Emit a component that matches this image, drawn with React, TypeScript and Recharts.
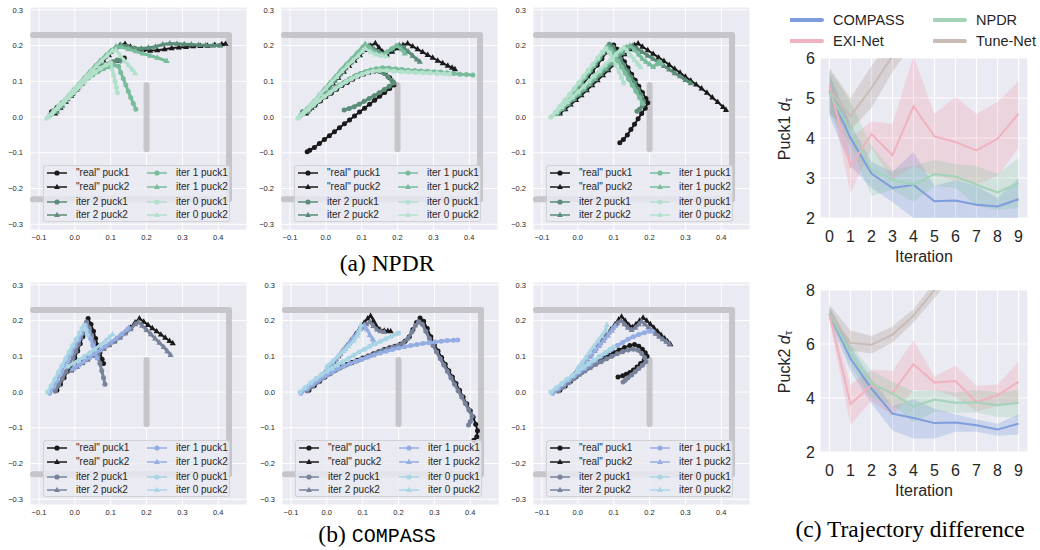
import React from "react";
import { ComposedChart, Scatter, XAxis, YAxis, CartesianGrid, Line, Area, Label } from "recharts";

type P = [number, number];

// ---------------- trajectory panels: ticks, labels, walls ----------------
const TRAJ_X_TICKS = [-0.1, 0, 0.1, 0.2, 0.3, 0.4];
const TRAJ_Y_TICKS = [-0.3, -0.2, -0.1, 0, 0.1, 0.2, 0.3];
const SERIES_LABELS = ['"real" puck1', '"real" puck2', "iter 2 puck1", "iter 2 puck2", "iter 1 puck1", "iter 1 puck2", "iter 0 puck1", "iter 0 puck2"];
const WALL_OUTER: P[] = [[-0.117, 0.23], [0.43, 0.23], [0.43, -0.23], [-0.117, -0.23]];
const WALL_INNER: P[] = [[0.2, 0.09], [0.2, -0.09]];

const NPDR_COLORS = ["#1a1a1a", "#1a1a1a", "#5b8d79", "#5b8d79", "#79bc9c", "#79bc9c", "#b3e0cb", "#b3e0cb"];
const COMPASS_COLORS = ["#1a1a1a", "#1a1a1a", "#78839b", "#78839b", "#94ade3", "#94ade3", "#a9d5e5", "#a9d5e5"];

// ---------------- (a) NPDR, panel 1 ----------------
const A1_REAL_P1: P[] = [[-0.065,0.015],[-0.05,0.027],[-0.035,0.04],[-0.02,0.053],[-0.005,0.066],[0.01,0.082],[0.025,0.1],[0.04,0.117],[0.055,0.13],[0.07,0.138],[0.085,0.145],[0.1,0.152],[0.12,0.158],[0.138,0.165]];
const A1_REAL_P2: P[] = [[-0.055,0.01],[-0.04,0.026],[-0.025,0.043],[-0.01,0.06],[0.005,0.077],[0.02,0.094],[0.035,0.11],[0.05,0.127],[0.065,0.143],[0.08,0.158],[0.095,0.173],[0.11,0.188],[0.125,0.2],[0.14,0.205],[0.155,0.197],[0.17,0.19],[0.19,0.188],[0.21,0.186],[0.23,0.187],[0.25,0.19],[0.27,0.193],[0.29,0.195],[0.31,0.196],[0.33,0.198],[0.35,0.199],[0.37,0.2],[0.39,0.202],[0.41,0.204],[0.42,0.205]];
const A1_IT2_P1: P[] = [[-0.06,0.018],[-0.045,0.03],[-0.03,0.043],[-0.015,0.058],[0.0,0.073],[0.015,0.09],[0.03,0.107],[0.045,0.122],[0.06,0.134],[0.075,0.142],[0.09,0.148],[0.105,0.155],[0.118,0.16],[0.128,0.157]];
const A1_IT2_P2: P[] = [[-0.05,0.015],[-0.035,0.032],[-0.02,0.05],[-0.005,0.067],[0.01,0.085],[0.025,0.102],[0.04,0.12],[0.055,0.137],[0.07,0.153],[0.085,0.168],[0.1,0.182],[0.115,0.195],[0.128,0.202],[0.145,0.198],[0.165,0.193],[0.185,0.192],[0.205,0.194],[0.225,0.197],[0.245,0.203],[0.265,0.206],[0.285,0.205],[0.305,0.204],[0.325,0.203],[0.345,0.202],[0.365,0.201],[0.385,0.2],[0.405,0.2]];
const A1_IT1_P1: P[] = [[-0.07,0.005],[-0.055,0.018],[-0.04,0.032],[-0.025,0.047],[-0.01,0.062],[0.005,0.078],[0.02,0.094],[0.035,0.108],[0.05,0.118],[0.065,0.127],[0.08,0.135],[0.095,0.141],[0.11,0.146],[0.122,0.142],[0.128,0.125],[0.135,0.108],[0.142,0.09],[0.149,0.072],[0.156,0.055],[0.163,0.038],[0.17,0.022]];
const A1_IT1_P2: P[] = [[-0.065,0.008],[-0.05,0.024],[-0.035,0.041],[-0.02,0.058],[-0.005,0.075],[0.01,0.092],[0.025,0.109],[0.04,0.126],[0.055,0.142],[0.07,0.158],[0.085,0.172],[0.1,0.186],[0.115,0.198],[0.13,0.196],[0.15,0.19],[0.17,0.184],[0.19,0.178],[0.21,0.172],[0.23,0.166],[0.256,0.157]];
const A1_IT0_P1: P[] = [[-0.078,-0.003],[-0.063,0.01],[-0.048,0.024],[-0.033,0.039],[-0.018,0.054],[-0.003,0.069],[0.012,0.084],[0.027,0.099],[0.042,0.113],[0.057,0.126],[0.072,0.137],[0.087,0.146],[0.1,0.152],[0.104,0.135],[0.108,0.118],[0.112,0.1],[0.116,0.083],[0.119,0.068]];
const A1_IT0_P2: P[] = [[-0.075,0.0],[-0.06,0.016],[-0.045,0.032],[-0.03,0.048],[-0.015,0.064],[0.0,0.08],[0.015,0.096],[0.03,0.112],[0.045,0.128],[0.06,0.143],[0.075,0.158],[0.09,0.172],[0.105,0.186],[0.115,0.188],[0.127,0.172],[0.138,0.158],[0.15,0.145],[0.16,0.133],[0.168,0.123]];

// ---------------- (a) NPDR, panel 2 ----------------
const A2_REAL_P1: P[] = [[-0.06,0.012],[-0.045,0.022],[-0.03,0.033],[-0.015,0.045],[0.0,0.057],[0.015,0.067],[0.03,0.078],[0.045,0.088],[0.06,0.097],[0.075,0.106],[0.09,0.114],[0.105,0.12],[0.12,0.125],[0.135,0.128],[0.15,0.128],[0.165,0.122],[0.178,0.11],[0.188,0.097],[0.19,0.09],[0.178,0.08],[0.164,0.069],[0.15,0.058],[0.136,0.047],[0.122,0.036],[0.108,0.025],[0.094,0.014],[0.08,0.003],[0.066,-0.008],[0.052,-0.019],[0.038,-0.03],[0.024,-0.041],[0.01,-0.052],[-0.004,-0.063],[-0.018,-0.074],[-0.032,-0.085],[-0.045,-0.093],[-0.052,-0.097]];
const A2_REAL_P2: P[] = [[-0.055,0.01],[-0.04,0.026],[-0.025,0.043],[-0.01,0.06],[0.005,0.077],[0.02,0.094],[0.035,0.11],[0.05,0.127],[0.065,0.143],[0.08,0.158],[0.095,0.173],[0.11,0.188],[0.125,0.2],[0.138,0.207],[0.148,0.195],[0.158,0.183],[0.17,0.175],[0.185,0.183],[0.2,0.193],[0.215,0.202],[0.228,0.206],[0.242,0.198],[0.256,0.19],[0.27,0.182],[0.284,0.174],[0.298,0.166],[0.312,0.158],[0.326,0.151],[0.34,0.144],[0.352,0.138],[0.36,0.134]];
const A2_IT2_P1: P[] = [[-0.065,0.015],[-0.05,0.025],[-0.035,0.036],[-0.02,0.048],[-0.005,0.06],[0.01,0.07],[0.025,0.08],[0.04,0.09],[0.055,0.099],[0.07,0.108],[0.085,0.116],[0.1,0.122],[0.115,0.127],[0.13,0.13],[0.145,0.13],[0.16,0.124],[0.173,0.113],[0.184,0.102],[0.19,0.095],[0.177,0.086],[0.163,0.077],[0.149,0.068],[0.135,0.06],[0.121,0.052],[0.107,0.044],[0.093,0.036],[0.079,0.029],[0.065,0.024],[0.051,0.02]];
const A2_IT2_P2: P[] = [[-0.05,0.015],[-0.035,0.032],[-0.02,0.05],[-0.005,0.067],[0.01,0.085],[0.025,0.102],[0.04,0.12],[0.055,0.137],[0.07,0.153],[0.085,0.168],[0.1,0.183],[0.112,0.195],[0.12,0.2],[0.135,0.19],[0.15,0.18],[0.165,0.178],[0.18,0.188],[0.195,0.198],[0.205,0.202],[0.218,0.194],[0.23,0.183],[0.242,0.172],[0.254,0.161],[0.262,0.155]];
const A2_IT1_P1: P[] = [[-0.07,0.005],[-0.055,0.017],[-0.04,0.03],[-0.025,0.043],[-0.01,0.055],[0.005,0.066],[0.02,0.077],[0.035,0.087],[0.05,0.097],[0.065,0.106],[0.08,0.114],[0.095,0.121],[0.11,0.127],[0.125,0.132],[0.14,0.135],[0.158,0.138],[0.176,0.137],[0.194,0.135],[0.212,0.133],[0.23,0.131],[0.248,0.13],[0.266,0.129],[0.284,0.128],[0.302,0.127],[0.32,0.126],[0.338,0.124],[0.356,0.122],[0.374,0.12],[0.392,0.119],[0.41,0.118]];
const A2_IT1_P2: P[] = [[-0.065,0.008],[-0.05,0.025],[-0.035,0.043],[-0.02,0.06],[-0.005,0.078],[0.01,0.095],[0.025,0.112],[0.04,0.13],[0.055,0.146],[0.07,0.162],[0.085,0.178],[0.1,0.194],[0.11,0.205],[0.125,0.192],[0.14,0.18],[0.155,0.175],[0.17,0.182],[0.185,0.192],[0.198,0.2],[0.21,0.19],[0.22,0.178]];
const A2_IT0_P1: P[] = [[-0.078,-0.003],[-0.063,0.009],[-0.048,0.022],[-0.033,0.035],[-0.018,0.047],[-0.003,0.058],[0.012,0.069],[0.027,0.08],[0.042,0.09],[0.057,0.099],[0.072,0.107],[0.087,0.114],[0.102,0.12],[0.117,0.125],[0.132,0.128],[0.15,0.13],[0.17,0.13],[0.19,0.128],[0.21,0.127],[0.23,0.126],[0.25,0.125],[0.27,0.124],[0.29,0.123],[0.31,0.122],[0.33,0.121],[0.345,0.12]];
const A2_IT0_P2: P[] = [[-0.075,0.0],[-0.06,0.016],[-0.045,0.032],[-0.03,0.048],[-0.015,0.064],[0.0,0.08],[0.015,0.096],[0.03,0.112],[0.045,0.128],[0.06,0.143],[0.075,0.158],[0.09,0.172],[0.102,0.185],[0.11,0.192],[0.125,0.182],[0.14,0.175],[0.155,0.172],[0.168,0.17]];

// ---------------- (a) NPDR, panel 3 ----------------
const A3_REAL_P1: P[] = [[-0.05,0.012],[-0.037,0.027],[-0.024,0.043],[-0.011,0.059],[0.002,0.076],[0.015,0.093],[0.028,0.11],[0.041,0.127],[0.054,0.145],[0.067,0.163],[0.08,0.182],[0.09,0.198],[0.1,0.202],[0.11,0.19],[0.12,0.173],[0.13,0.155],[0.14,0.138],[0.15,0.12],[0.16,0.103],[0.17,0.086],[0.18,0.069],[0.19,0.052],[0.195,0.04],[0.188,0.025],[0.178,0.01],[0.168,-0.005],[0.158,-0.02],[0.148,-0.035],[0.138,-0.05],[0.127,-0.063],[0.117,-0.072]];
const A3_REAL_P2: P[] = [[-0.05,0.01],[-0.035,0.022],[-0.02,0.035],[-0.005,0.048],[0.01,0.061],[0.025,0.075],[0.04,0.089],[0.055,0.103],[0.07,0.117],[0.085,0.131],[0.1,0.146],[0.115,0.161],[0.13,0.176],[0.145,0.19],[0.158,0.202],[0.168,0.206],[0.18,0.197],[0.195,0.187],[0.21,0.177],[0.225,0.167],[0.24,0.157],[0.255,0.146],[0.27,0.135],[0.285,0.124],[0.3,0.113],[0.315,0.102],[0.33,0.091],[0.345,0.08],[0.36,0.068],[0.375,0.055],[0.39,0.042],[0.405,0.028],[0.413,0.02]];
const A3_IT2_P1: P[] = [[-0.055,0.015],[-0.042,0.03],[-0.029,0.046],[-0.016,0.062],[-0.003,0.079],[0.01,0.096],[0.023,0.113],[0.036,0.13],[0.049,0.148],[0.062,0.166],[0.075,0.184],[0.088,0.204],[0.098,0.196],[0.108,0.18],[0.118,0.163],[0.128,0.146],[0.138,0.129],[0.148,0.112],[0.158,0.095],[0.168,0.078],[0.176,0.062],[0.182,0.046],[0.18,0.032],[0.172,0.022],[0.165,0.016]];
const A3_IT2_P2: P[] = [[-0.055,0.012],[-0.04,0.025],[-0.025,0.038],[-0.01,0.051],[0.005,0.064],[0.02,0.078],[0.035,0.092],[0.05,0.106],[0.065,0.12],[0.08,0.134],[0.095,0.149],[0.11,0.164],[0.125,0.179],[0.14,0.193],[0.152,0.2],[0.165,0.192],[0.18,0.182],[0.195,0.172],[0.21,0.163],[0.225,0.153],[0.24,0.143],[0.255,0.133],[0.27,0.123],[0.285,0.114],[0.3,0.104],[0.315,0.095]];
const A3_IT1_P1: P[] = [[-0.06,0.01],[-0.047,0.026],[-0.034,0.042],[-0.021,0.058],[-0.008,0.075],[0.005,0.092],[0.018,0.109],[0.031,0.126],[0.044,0.143],[0.057,0.161],[0.07,0.179],[0.082,0.197],[0.092,0.19],[0.102,0.174],[0.112,0.157],[0.122,0.14],[0.132,0.123],[0.142,0.106],[0.152,0.089],[0.162,0.072],[0.172,0.055],[0.18,0.038]];
const A3_IT1_P2: P[] = [[-0.06,0.008],[-0.045,0.022],[-0.03,0.036],[-0.015,0.05],[0.0,0.064],[0.015,0.078],[0.03,0.092],[0.045,0.107],[0.06,0.122],[0.075,0.137],[0.09,0.152],[0.105,0.167],[0.12,0.182],[0.135,0.196],[0.145,0.2],[0.158,0.188],[0.17,0.175],[0.18,0.163],[0.19,0.155],[0.2,0.148],[0.21,0.14],[0.22,0.148],[0.228,0.155],[0.233,0.15]];
const A3_IT0_P1: P[] = [[-0.075,0.0],[-0.062,0.015],[-0.049,0.031],[-0.036,0.047],[-0.023,0.063],[-0.01,0.08],[0.003,0.097],[0.016,0.114],[0.029,0.131],[0.042,0.148],[0.055,0.165],[0.068,0.182],[0.078,0.192],[0.088,0.18],[0.097,0.163],[0.106,0.145],[0.115,0.127],[0.122,0.11],[0.128,0.095]];
const A3_IT0_P2: P[] = [[-0.075,0.0],[-0.06,0.014],[-0.045,0.028],[-0.03,0.042],[-0.015,0.056],[0.0,0.07],[0.015,0.085],[0.03,0.1],[0.045,0.115],[0.06,0.13],[0.075,0.145],[0.09,0.16],[0.105,0.175],[0.118,0.188],[0.128,0.195],[0.138,0.185],[0.148,0.172],[0.158,0.16],[0.168,0.148],[0.175,0.14]];

// ---------------- (b) COMPASS, panel 1 ----------------
const B1_REAL_P1: P[] = [[-0.05,0.005],[-0.04,0.022],[-0.03,0.04],[-0.02,0.058],[-0.01,0.077],[0.0,0.096],[0.008,0.115],[0.015,0.135],[0.022,0.155],[0.028,0.175],[0.033,0.195],[0.037,0.206],[0.045,0.19],[0.052,0.17],[0.058,0.15],[0.064,0.13],[0.07,0.11],[0.076,0.092],[0.08,0.08]];
const B1_REAL_P2: P[] = [[-0.01,0.062],[0.005,0.072],[0.02,0.082],[0.035,0.092],[0.05,0.102],[0.065,0.112],[0.08,0.122],[0.095,0.132],[0.11,0.143],[0.125,0.155],[0.14,0.168],[0.155,0.18],[0.168,0.195],[0.18,0.206],[0.192,0.197],[0.204,0.188],[0.216,0.179],[0.228,0.17],[0.24,0.161],[0.252,0.152],[0.264,0.143],[0.273,0.137]];
const B1_IT2_P1: P[] = [[-0.055,0.002],[-0.045,0.02],[-0.035,0.038],[-0.025,0.057],[-0.015,0.076],[-0.005,0.095],[0.003,0.114],[0.01,0.133],[0.017,0.152],[0.023,0.17],[0.029,0.188],[0.033,0.196],[0.04,0.18],[0.046,0.16],[0.052,0.14],[0.058,0.12],[0.064,0.1],[0.07,0.08],[0.075,0.06],[0.08,0.04],[0.084,0.022]];
const B1_IT2_P2: P[] = [[-0.01,0.06],[0.005,0.07],[0.02,0.081],[0.035,0.091],[0.05,0.101],[0.065,0.111],[0.08,0.121],[0.095,0.131],[0.11,0.141],[0.125,0.152],[0.14,0.164],[0.155,0.176],[0.168,0.19],[0.177,0.196],[0.188,0.186],[0.2,0.174],[0.212,0.162],[0.224,0.15],[0.236,0.138],[0.248,0.126],[0.258,0.114],[0.267,0.104]];
const B1_IT1_P1: P[] = [[-0.07,-0.003],[-0.06,0.015],[-0.05,0.034],[-0.04,0.053],[-0.03,0.072],[-0.02,0.091],[-0.01,0.11],[0.0,0.128],[0.01,0.146],[0.018,0.163],[0.025,0.18],[0.03,0.188],[0.037,0.17],[0.044,0.15],[0.05,0.13],[0.056,0.112],[0.062,0.095]];
const B1_IT1_P2: P[] = [[-0.005,0.065],[0.01,0.075],[0.025,0.086],[0.04,0.096],[0.055,0.107],[0.07,0.117],[0.085,0.128],[0.1,0.139],[0.115,0.15],[0.13,0.162],[0.145,0.175],[0.15,0.18]];
const B1_IT0_P1: P[] = [[-0.076,0.0],[-0.066,0.018],[-0.056,0.036],[-0.046,0.055],[-0.036,0.074],[-0.026,0.093],[-0.016,0.112],[-0.006,0.13],[0.004,0.148],[0.013,0.165],[0.02,0.178],[0.026,0.186],[0.03,0.175],[0.035,0.16]];
const B1_IT0_P2: P[] = [[-0.02,0.072],[-0.005,0.08],[0.01,0.089],[0.025,0.099],[0.04,0.109],[0.055,0.12],[0.07,0.131],[0.085,0.143],[0.095,0.152],[0.105,0.162]];

// ---------------- (b) COMPASS, panel 2 ----------------
const B2_REAL_P1: P[] = [[-0.05,0.005],[-0.035,0.018],[-0.02,0.03],[-0.005,0.042],[0.01,0.053],[0.025,0.062],[0.04,0.07],[0.055,0.077],[0.07,0.083],[0.085,0.089],[0.1,0.095],[0.115,0.101],[0.13,0.107],[0.145,0.113],[0.16,0.119],[0.175,0.124],[0.19,0.128],[0.205,0.134],[0.218,0.142],[0.23,0.155],[0.24,0.175],[0.25,0.195],[0.26,0.207],[0.27,0.198],[0.28,0.178],[0.29,0.155],[0.3,0.133],[0.31,0.115],[0.32,0.097],[0.33,0.078],[0.34,0.06],[0.35,0.042],[0.36,0.024],[0.37,0.005],[0.38,-0.014],[0.39,-0.033],[0.4,-0.052],[0.408,-0.07],[0.415,-0.09],[0.42,-0.108],[0.418,-0.125],[0.41,-0.135]];
const B2_REAL_P2: P[] = [[-0.005,0.055],[0.008,0.07],[0.02,0.085],[0.032,0.1],[0.044,0.115],[0.056,0.13],[0.068,0.146],[0.08,0.162],[0.092,0.178],[0.104,0.194],[0.114,0.206],[0.122,0.213],[0.13,0.2],[0.138,0.185],[0.148,0.175],[0.16,0.172],[0.17,0.171],[0.178,0.17]];
const B2_IT2_P1: P[] = [[-0.055,0.003],[-0.04,0.016],[-0.025,0.028],[-0.01,0.04],[0.005,0.05],[0.02,0.059],[0.035,0.067],[0.05,0.074],[0.065,0.08],[0.08,0.086],[0.095,0.092],[0.11,0.098],[0.125,0.104],[0.14,0.11],[0.155,0.116],[0.17,0.121],[0.185,0.126],[0.2,0.131],[0.213,0.138],[0.226,0.15],[0.237,0.168],[0.247,0.186],[0.256,0.197],[0.266,0.19],[0.276,0.17],[0.286,0.15],[0.296,0.13],[0.306,0.112],[0.316,0.094],[0.326,0.076],[0.336,0.058],[0.346,0.04],[0.356,0.022],[0.366,0.004],[0.376,-0.014],[0.386,-0.032],[0.396,-0.05],[0.405,-0.068],[0.4,-0.082],[0.395,-0.092]];
const B2_IT2_P2: P[] = [[-0.01,0.05],[0.002,0.064],[0.014,0.078],[0.026,0.092],[0.038,0.107],[0.05,0.122],[0.062,0.137],[0.074,0.152],[0.086,0.167],[0.098,0.18],[0.11,0.19],[0.12,0.196],[0.13,0.185],[0.14,0.175],[0.15,0.17],[0.16,0.168]];
const B2_IT1_P1: P[] = [[-0.072,-0.003],[-0.055,0.01],[-0.038,0.022],[-0.021,0.034],[-0.004,0.045],[0.013,0.055],[0.03,0.064],[0.047,0.072],[0.064,0.079],[0.081,0.086],[0.098,0.092],[0.115,0.098],[0.132,0.104],[0.149,0.109],[0.166,0.114],[0.183,0.119],[0.2,0.123],[0.217,0.127],[0.234,0.13],[0.251,0.133],[0.268,0.136],[0.285,0.138],[0.302,0.14],[0.319,0.142],[0.336,0.144],[0.353,0.145],[0.365,0.146]];
const B2_IT1_P2: P[] = [[0.0,0.06],[0.012,0.075],[0.024,0.09],[0.036,0.105],[0.048,0.12],[0.06,0.135],[0.072,0.15],[0.084,0.165],[0.095,0.18],[0.104,0.188],[0.112,0.175],[0.12,0.16],[0.128,0.148],[0.132,0.141]];
const B2_IT0_P1: P[] = [[-0.075,0.0],[-0.06,0.013],[-0.045,0.026],[-0.03,0.038],[-0.015,0.049],[0.0,0.058],[0.015,0.067],[0.03,0.076],[0.045,0.085],[0.06,0.094],[0.075,0.103],[0.09,0.112],[0.105,0.12],[0.12,0.128],[0.135,0.135],[0.15,0.142],[0.165,0.149],[0.18,0.156],[0.195,0.163],[0.2,0.165]];
const B2_IT0_P2: P[] = [[0.0,0.072],[0.015,0.086],[0.03,0.1],[0.045,0.114],[0.06,0.128],[0.075,0.143],[0.085,0.158],[0.092,0.174],[0.095,0.188]];

// ---------------- (b) COMPASS, panel 3 ----------------
const B3_REAL_P1: P[] = [[-0.05,0.005],[-0.035,0.017],[-0.02,0.03],[-0.005,0.043],[0.01,0.055],[0.025,0.066],[0.04,0.076],[0.055,0.086],[0.07,0.095],[0.085,0.103],[0.1,0.111],[0.115,0.118],[0.13,0.125],[0.145,0.13],[0.158,0.133],[0.17,0.128],[0.18,0.12],[0.188,0.11],[0.193,0.1],[0.185,0.09],[0.175,0.08],[0.165,0.07],[0.155,0.062],[0.145,0.055],[0.135,0.05],[0.125,0.046],[0.112,0.042]];
const B3_REAL_P2: P[] = [[-0.005,0.055],[0.008,0.07],[0.02,0.085],[0.032,0.1],[0.044,0.115],[0.056,0.13],[0.068,0.145],[0.08,0.16],[0.092,0.175],[0.104,0.19],[0.114,0.203],[0.122,0.211],[0.132,0.2],[0.142,0.188],[0.152,0.182],[0.162,0.19],[0.172,0.2],[0.182,0.208],[0.192,0.2],[0.202,0.19],[0.212,0.18],[0.222,0.17],[0.232,0.16],[0.242,0.15],[0.25,0.142],[0.258,0.134]];
const B3_IT2_P1: P[] = [[-0.055,0.002],[-0.04,0.014],[-0.025,0.026],[-0.01,0.038],[0.005,0.049],[0.02,0.059],[0.035,0.068],[0.05,0.077],[0.065,0.085],[0.08,0.093],[0.095,0.1],[0.11,0.107],[0.125,0.113],[0.14,0.118],[0.155,0.12],[0.168,0.117],[0.178,0.108],[0.186,0.097],[0.19,0.085],[0.18,0.075],[0.17,0.066],[0.16,0.057],[0.15,0.048],[0.14,0.04],[0.132,0.033],[0.126,0.028]];
const B3_IT2_P2: P[] = [[-0.01,0.05],[0.002,0.064],[0.014,0.078],[0.026,0.092],[0.038,0.107],[0.05,0.122],[0.062,0.137],[0.074,0.152],[0.086,0.167],[0.098,0.18],[0.11,0.193],[0.12,0.2],[0.13,0.19],[0.14,0.18],[0.15,0.174],[0.16,0.18],[0.17,0.19],[0.177,0.198],[0.187,0.19],[0.197,0.181],[0.207,0.172],[0.217,0.163],[0.227,0.155],[0.237,0.148],[0.247,0.141],[0.255,0.135]];
const B3_IT1_P1: P[] = [[-0.07,-0.003],[-0.055,0.01],[-0.04,0.022],[-0.025,0.034],[-0.01,0.045],[0.005,0.056],[0.02,0.067],[0.035,0.078],[0.05,0.089],[0.065,0.1],[0.08,0.11],[0.095,0.12],[0.11,0.13],[0.125,0.139],[0.14,0.148],[0.155,0.155],[0.17,0.161],[0.185,0.166],[0.2,0.17],[0.207,0.171]];
const B3_IT1_P2: P[] = [[0.0,0.06],[0.012,0.074],[0.024,0.088],[0.036,0.102],[0.048,0.116],[0.06,0.13],[0.072,0.144],[0.084,0.158],[0.095,0.172],[0.104,0.185]];
const B3_IT0_P1: P[] = [[-0.075,0.0],[-0.06,0.012],[-0.045,0.024],[-0.03,0.036],[-0.015,0.047],[0.0,0.058],[0.015,0.069],[0.03,0.08],[0.045,0.09],[0.06,0.1],[0.075,0.11],[0.09,0.12],[0.1,0.126]];
const B3_IT0_P2: P[] = [[0.0,0.068],[0.011,0.082],[0.022,0.097],[0.033,0.112],[0.044,0.127],[0.055,0.142],[0.066,0.157],[0.077,0.172],[0.081,0.188]];

// ---------------- (c) trajectory difference ----------------
const ITERATIONS = [0, 1, 2, 3, 4, 5, 6, 7, 8, 9];
const METHODS = ["COMPASS", "EXI-Net", "NPDR", "Tune-Net"];
const METHOD_LINE = ["#7f9ddc", "#f0b2be", "#a3d3b8", "#c9bcb6"];
const METHOD_BAND = ["#4878d0", "#ee7d93", "#6cc08e", "#8c7466"];

const P1_COMPASS = [5.17, 4.0, 3.11, 2.75, 2.83, 2.42, 2.44, 2.33, 2.29, 2.47];
const P1_COMPASS_LO = [4.55, 3.3, 2.75, 2.4, 2.0, 2.0, 1.98, 1.9, 1.85, 1.95];
const P1_COMPASS_HI = [5.6, 4.35, 3.4, 3.15, 3.65, 2.8, 2.95, 2.8, 2.5, 3.0];
const P1_EXI = [5.31, 3.29, 4.1, 3.57, 4.79, 4.04, 3.9, 3.69, 3.98, 4.61];
const P1_EXI_LO = [5.1, 2.62, 3.75, 2.95, 3.3, 3.05, 2.95, 2.85, 3.05, 3.75];
const P1_EXI_HI = [5.45, 4.0, 4.42, 4.35, 6.05, 4.6, 5.03, 4.6, 4.9, 5.42];
const P1_NPDR = [5.13, 4.17, 3.21, 2.96, 2.83, 3.1, 3.04, 2.83, 2.64, 2.87];
const P1_NPDR_LO = [4.6, 3.8, 2.55, 2.7, 2.4, 2.8, 2.75, 2.3, 2.2, 2.25];
const P1_NPDR_HI = [5.7, 4.9, 3.8, 3.2, 3.3, 3.45, 3.35, 3.3, 3.1, 3.5];
const P1_TUNE = [5.2, 4.55, 5.25, 6.05, 6.9, 7.8, 8.6, 9.3, 9.9, 10.4];
const P1_TUNE_LO = [4.6, 4.2, 4.75, 5.65, 6.4, 7.2, 8.0, 8.6, 9.2, 9.6];
const P1_TUNE_HI = [5.75, 5.0, 5.8, 6.5, 7.4, 8.4, 9.2, 10.0, 10.6, 11.2];

const P2_COMPASS = [7.13, 5.46, 4.35, 3.42, 3.26, 3.07, 3.09, 2.99, 2.83, 3.05];
const P2_COMPASS_LO = [6.9, 5.0, 3.8, 2.8, 2.5, 2.5, 2.75, 2.75, 2.6, 2.65];
const P2_COMPASS_HI = [7.35, 5.9, 4.7, 3.7, 3.95, 3.6, 3.4, 3.2, 3.05, 3.4];
const P2_EXI = [7.1, 3.77, 4.47, 4.19, 5.25, 4.57, 4.63, 3.85, 4.1, 4.6];
const P2_EXI_LO = [6.9, 3.0, 3.9, 3.35, 4.3, 4.3, 4.05, 3.5, 3.7, 3.85];
const P2_EXI_HI = [7.3, 4.5, 5.05, 5.0, 6.15, 4.8, 5.2, 4.45, 4.5, 5.35];
const P2_NPDR = [7.13, 5.65, 4.53, 4.16, 3.69, 3.94, 3.82, 3.84, 3.73, 3.82];
const P2_NPDR_LO = [6.9, 5.2, 4.0, 3.75, 3.1, 3.5, 3.45, 3.45, 3.3, 3.3];
const P2_NPDR_HI = [7.4, 6.0, 5.0, 4.6, 4.25, 4.3, 4.2, 4.3, 4.2, 4.3];
const P2_TUNE = [7.13, 6.04, 5.97, 6.35, 7.05, 8.0, 9.0, 9.9, 10.7, 11.4];
const P2_TUNE_LO = [6.9, 5.75, 5.65, 6.05, 6.8, 7.7, 8.6, 9.4, 10.2, 10.8];
const P2_TUNE_HI = [7.45, 6.5, 6.3, 6.65, 7.3, 8.3, 9.4, 10.4, 11.2, 12.0];

// ---------------- helpers ----------------
const SANS = '"Liberation Sans", Arial, Helvetica, sans-serif';
const TEXT = "#262626";
const toPts = (a: P[]) => a.map(([x, y]) => ({ x, y }));
const fmt = (v: number) => (v < 0 ? "\u2212" : "") + Math.abs(v).toFixed(1);

const noShape = () => <g />;
const dotShape = (r: number) => (p: any) =>
  p.cx == null ? <g /> : <circle cx={p.cx} cy={p.cy} r={r} fill={p.fill} />;
const triShape = (s: number) => (p: any) =>
  p.cx == null ? <g /> : (
    <path d={`M${p.cx},${p.cy - s}L${p.cx + s * 0.9},${p.cy + s * 0.6}L${p.cx - s * 0.9},${p.cy + s * 0.6}Z`} fill={p.fill} />
  );

function Marker({ tri, color, cx, cy }: { tri: boolean; color: string; cx: number; cy: number }) {
  const s = 3.2;
  return tri ? (
    <path d={`M${cx},${cy - s}L${cx + s * 0.9},${cy + s * 0.6}L${cx - s * 0.9},${cy + s * 0.6}Z`} fill={color} />
  ) : (
    <circle cx={cx} cy={cy} r={2.6} fill={color} />
  );
}

function SubLegend({ left, top, colors }: { left: number; top: number; colors: string[] }) {
  const rows = [8.3, 22.3, 36.5, 50.2];
  return (
    <div
      style={{
        position: "absolute",
        left,
        top,
        width: 187,
        height: 57,
        background: "rgba(234,234,242,0.8)",
        border: "1px solid rgba(204,204,204,0.8)",
        borderRadius: 3,
        boxSizing: "border-box",
        fontFamily: SANS,
        fontSize: 10,
        color: TEXT,
      }}
    >
      {SERIES_LABELS.map((lab, k) => {
        const col = k < 4 ? 0 : 1;
        const row = k % 4;
        const x0 = col === 0 ? 3 : 103;
        const y = rows[row] - 1;
        return (
          <div key={lab} style={{ position: "absolute", left: x0, top: y - 6, height: 12, whiteSpace: "nowrap" }}>
            <svg width={20} height={12} style={{ position: "absolute", left: 0, top: 0 }}>
              <line x1={0} y1={6} x2={20} y2={6} stroke={colors[k]} strokeWidth={1.5} />
              <Marker tri={k % 2 === 1} color={colors[k]} cx={10} cy={6} />
            </svg>
            <span style={{ position: "absolute", left: 29, top: -1, lineHeight: "13px" }}>{lab}</span>
          </div>
        );
      })}
    </div>
  );
}

function TrajPanel({ plotLeft, plotTop, series, colors }: { plotLeft: number; plotTop: number; series: P[][]; colors: string[] }) {
  return (
    <>
      <div style={{ position: "absolute", left: plotLeft - 30, top: plotTop - 5 }}>
        <ComposedChart width={252} height={248} margin={{ top: 5, right: 5, bottom: 0, left: 0 }}>
          <CartesianGrid fill="#EAEAF2" stroke="#ffffff" strokeWidth={1} />
          <XAxis
            dataKey="x"
            type="number"
            domain={[-0.125, 0.48]}
            ticks={TRAJ_X_TICKS}
            allowDataOverflow
            height={20}
            axisLine={false}
            tickLine={false}
            tickSize={0}
            tickMargin={5}
            tickFormatter={fmt}
            tick={{ fontSize: 7.5, fill: TEXT, fontFamily: SANS }}
          />
          <YAxis
            dataKey="y"
            type="number"
            domain={[-0.316, 0.308]}
            ticks={TRAJ_Y_TICKS}
            allowDataOverflow
            width={30}
            axisLine={false}
            tickLine={false}
            tickSize={0}
            tickMargin={7}
            tickFormatter={fmt}
            tick={{ fontSize: 7.5, fill: TEXT, fontFamily: SANS }}
          />
          <Scatter
            data={toPts(WALL_OUTER)}
            shape={noShape}
            line={{ stroke: "#c5c5ca", strokeWidth: 6, strokeLinecap: "round", strokeLinejoin: "round" }}
            isAnimationActive={false}
          />
          <Scatter
            data={toPts(WALL_INNER)}
            shape={noShape}
            line={{ stroke: "#c5c5ca", strokeWidth: 6, strokeLinecap: "round" }}
            isAnimationActive={false}
          />
          {series.map((s, k) => (
            <Scatter
              key={k}
              data={toPts(s)}
              fill={colors[k]}
              shape={k % 2 === 1 ? triShape(3.4) : dotShape(2.5)}
              line={{ stroke: colors[k], strokeWidth: k < 2 ? 2 : 3, strokeLinejoin: "round", strokeLinecap: "round" }}
              isAnimationActive={false}
            />
          ))}
        </ComposedChart>
      </div>
      <SubLegend left={plotLeft + 13} top={plotTop + 158} colors={colors} />
    </>
  );
}

type Row = { i: number; [k: string]: any };
function buildRows(lines: number[][], los: number[][], his: number[][]): Row[] {
  return ITERATIONS.map((i, k) => {
    const r: Row = { i };
    METHODS.forEach((m, j) => {
      r[m] = lines[j][k];
      r[m + "_band"] = [los[j][k], his[j][k]];
    });
    return r;
  });
}

const ROWS_P1 = buildRows(
  [P1_COMPASS, P1_EXI, P1_NPDR, P1_TUNE],
  [P1_COMPASS_LO, P1_EXI_LO, P1_NPDR_LO, P1_TUNE_LO],
  [P1_COMPASS_HI, P1_EXI_HI, P1_NPDR_HI, P1_TUNE_HI]
);
const ROWS_P2 = buildRows(
  [P2_COMPASS, P2_EXI, P2_NPDR, P2_TUNE],
  [P2_COMPASS_LO, P2_EXI_LO, P2_NPDR_LO, P2_TUNE_LO],
  [P2_COMPASS_HI, P2_EXI_HI, P2_NPDR_HI, P2_TUNE_HI]
);

function DiffChart({ left, top, height, marginTop, rows, yDomain, yTicks, puck }: any) {
  const xLabel = (p: any) => {
    const vb = p && p.viewBox;
    if (!vb) return null;
    return (
      <text x={vb.x + vb.width / 2} y={vb.y + 44} textAnchor="middle" fontSize={16} fill={TEXT} fontFamily={SANS}>
        Iteration
      </text>
    );
  };
  const yLabel = (p: any) => {
    const vb = p && p.viewBox;
    if (!vb) return null;
    const x = vb.x + 14;
    const y = vb.y + vb.height / 2 - 9;
    return (
      <text x={x} y={y} transform={`rotate(-90, ${x}, ${y})`} textAnchor="middle" dominantBaseline="central" fontSize={16} fill={TEXT} fontFamily={SANS}>
        {puck + " "}
        <tspan fontStyle="italic">d</tspan>
        <tspan fontSize={11.5} dy={4}>τ</tspan>
      </text>
    );
  };
  return (
    <div style={{ position: "absolute", left, top }}>
      <ComposedChart width={270} height={height} data={rows} margin={{ top: marginTop, right: 12, bottom: 0, left: 0 }}>
        <CartesianGrid fill="#EAEAF2" stroke="#ffffff" strokeWidth={1.2} />
        <XAxis
          dataKey="i"
          type="number"
          domain={[-0.45, 9.45]}
          ticks={ITERATIONS}
          allowDataOverflow
          height={52}
          axisLine={false}
          tickLine={false}
          tickSize={0}
          tickMargin={13}
          tick={{ fontSize: 16, fill: TEXT, fontFamily: SANS }}
        >
          <Label content={xLabel} />
        </XAxis>
        <YAxis
          type="number"
          domain={yDomain}
          ticks={yTicks}
          allowDataOverflow
          width={50}
          axisLine={false}
          tickLine={false}
          tickSize={0}
          tickMargin={5}
          tick={{ fontSize: 16, fill: TEXT, fontFamily: SANS }}
        >
          <Label content={yLabel} />
        </YAxis>
        {METHODS.map((m, j) => (
          <Area
            key={m + "b"}
            dataKey={m + "_band"}
            type="linear"
            stroke="none"
            fill={METHOD_BAND[j]}
            fillOpacity={0.2}
            dot={false}
            activeDot={false}
            isAnimationActive={false}
          />
        ))}
        {METHODS.map((m, j) => (
          <Line
            key={m}
            dataKey={m}
            type="linear"
            stroke={METHOD_LINE[j]}
            strokeWidth={2}
            dot={false}
            activeDot={false}
            isAnimationActive={false}
          />
        ))}
      </ComposedChart>
    </div>
  );
}

function DiffLegend() {
  const items = [
    { m: 0, x: 790, y: 20 },
    { m: 1, x: 790, y: 41 },
    { m: 2, x: 933, y: 20 },
    { m: 3, x: 933, y: 41 },
  ];
  return (
    <>
      {items.map((it) => (
        <div key={it.m} style={{ position: "absolute", left: it.x, top: it.y - 9, height: 18, whiteSpace: "nowrap" }}>
          <svg width={34} height={18} style={{ position: "absolute", left: 0, top: 0 }}>
            <line x1={1} y1={9} x2={32} y2={9} stroke={METHOD_LINE[it.m]} strokeWidth={4} strokeLinecap="round" />
          </svg>
          <span style={{ position: "absolute", left: 43, top: 0, lineHeight: "18px", fontSize: 14.5, fontFamily: SANS, color: TEXT }}>
            {METHODS[it.m]}
          </span>
        </div>
      ))}
    </>
  );
}

const SERIF = '"Liberation Serif", "Times New Roman", serif';
const MONO = '"Liberation Mono", "DejaVu Sans Mono", monospace';

export default function App() {
  const cap: React.CSSProperties = { position: "absolute", width: 300, textAlign: "center", fontFamily: SERIF, fontSize: 23.5, lineHeight: "28px", whiteSpace: "nowrap", color: "#000" };
  return (
    <div style={{ position: "absolute", left: 0, top: 0, width: 1040, height: 550, background: "#ffffff", overflow: "hidden" }}>
      <TrajPanel plotLeft={30} plotTop={7} colors={NPDR_COLORS}
        series={[A1_REAL_P1, A1_REAL_P2, A1_IT2_P1, A1_IT2_P2, A1_IT1_P1, A1_IT1_P2, A1_IT0_P1, A1_IT0_P2]} />
      <TrajPanel plotLeft={281} plotTop={7} colors={NPDR_COLORS}
        series={[A2_REAL_P1, A2_REAL_P2, A2_IT2_P1, A2_IT2_P2, A2_IT1_P1, A2_IT1_P2, A2_IT0_P1, A2_IT0_P2]} />
      <TrajPanel plotLeft={533} plotTop={7} colors={NPDR_COLORS}
        series={[A3_REAL_P1, A3_REAL_P2, A3_IT2_P1, A3_IT2_P2, A3_IT1_P1, A3_IT1_P2, A3_IT0_P1, A3_IT0_P2]} />
      <TrajPanel plotLeft={30} plotTop={282} colors={COMPASS_COLORS}
        series={[B1_REAL_P1, B1_REAL_P2, B1_IT2_P1, B1_IT2_P2, B1_IT1_P1, B1_IT1_P2, B1_IT0_P1, B1_IT0_P2]} />
      <TrajPanel plotLeft={282} plotTop={282} colors={COMPASS_COLORS}
        series={[B2_REAL_P1, B2_REAL_P2, B2_IT2_P1, B2_IT2_P2, B2_IT1_P1, B2_IT1_P2, B2_IT0_P1, B2_IT0_P2]} />
      <TrajPanel plotLeft={533} plotTop={282} colors={COMPASS_COLORS}
        series={[B3_REAL_P1, B3_REAL_P2, B3_IT2_P1, B3_IT2_P2, B3_IT1_P1, B3_IT1_P2, B3_IT0_P1, B3_IT0_P2]} />

      <DiffLegend />
      <DiffChart left={770} top={0} height={270} marginTop={58} rows={ROWS_P1} yDomain={[2, 6]} yTicks={[2, 3, 4, 5, 6]} puck="Puck1" />
      <DiffChart left={770} top={280} height={224} marginTop={10} rows={ROWS_P2} yDomain={[2, 8]} yTicks={[2, 4, 6, 8]} puck="Puck2" />

      <div style={{ ...cap, left: 237, top: 249 }}>(a) NPDR</div>
      <div style={{ ...cap, left: 227, top: 520 }}>
        (b) <span style={{ fontFamily: MONO, fontSize: 20 }}>COMPASS</span>
      </div>
      <div style={{ ...cap, left: 760, top: 515 }}>(c) Trajectory difference</div>
    </div>
  );
}
